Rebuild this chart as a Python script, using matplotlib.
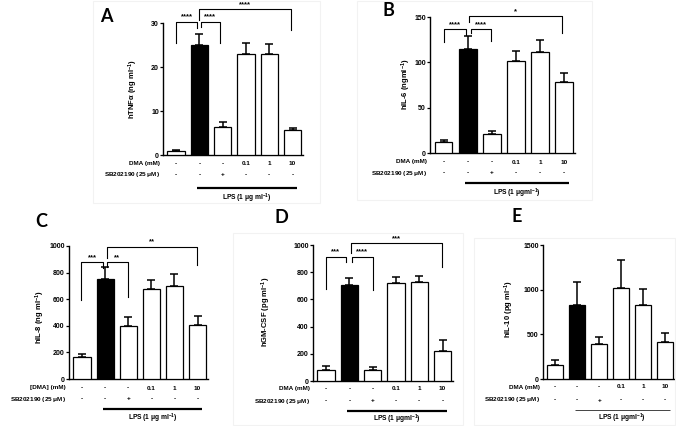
import matplotlib
matplotlib.use('Agg')
import matplotlib.pyplot as plt
from matplotlib.transforms import offset_copy
from matplotlib.patches import Rectangle
import numpy as np

W, H = 676, 426

# ---- data (means and upper SEM) ----
groups = ['ctrl', 'LPS', 'LPS+SB', 'DMA 0.1', 'DMA 1', 'DMA 10']
dma_row = ['-', '-', '-', '0.1', '1', '10']
sb_row = ['-', '-', '+', '-', '-', '-']

tnf_mean = [0.8, 25.1, 6.3, 23.0, 23.0, 5.7]
tnf_err = [0.3, 2.4, 1.1, 2.5, 2.3, 0.5]

il6_mean = [12.5, 114.5, 21.5, 102.0, 111.0, 78.0]
il6_err = [2.3, 14.0, 3.0, 10.5, 13.5, 10.0]

il8_mean = [165, 751, 399, 673, 701, 409]
il8_err = [25, 94, 65, 75, 92, 62]

gmcsf_mean = [84, 708, 79, 717, 730, 219]
gmcsf_err = [29, 46, 24, 47, 41, 81]

il10_mean = [157, 830, 388, 1015, 830, 418]
il10_err = [56, 256, 78, 317, 180, 95]

# significance brackets: x1, x2, top, left leg end, right leg end, label
sig_A = [(0.0, 0.9, 30.3, 25.5, 28.8, '****'),
         (1.05, 1.9, 30.3, 29.0, 25.5, '****'),
         (0.98, 4.95, 33.2, 30.7, 28.4, '****')]
sig_B = [(0.0, 0.95, 136.5, 122, 130.5, '****'),
         (1.15, 1.96, 136.5, 132, 124, '****'),
         (1.07, 4.93, 151, 144, 132, '*')]
sig_C = [(-0.03, 0.9, 879, 594, 832, '***'),
         (1.1, 1.97, 879, 845, 619, '**'),
         (1.08, 4.99, 995, 907, 857, '**')]
sig_D = [(0.0, 0.85, 914, 673, 877, '***'),
         (1.1, 2.0, 914, 877, 669, '****'),
         (1.05, 4.97, 1012, 938, 840, '***')]

plt.rcParams['font.family'] = ['Liberation Sans', 'DejaVu Sans']
plt.rcParams['mathtext.fontset'] = 'custom'
plt.rcParams['mathtext.rm'] = 'Liberation Sans:bold'
plt.rcParams['mathtext.it'] = 'Liberation Sans:bold'
plt.rcParams['mathtext.bf'] = 'Liberation Sans:bold'

fig = plt.figure(figsize=(W / 100, H / 100), dpi=100)
fig.patch.set_facecolor('white')

# faint panel frames seen in the source figure
for (x0, y0, x1, y1) in [(93, 1, 320, 203), (357, 1, 592, 200),
                         (233, 233, 463, 425), (474, 238, 675, 425)]:
    fig.patches.append(Rectangle((x0 / W, 1 - y1 / H), (x1 - x0) / W, (y1 - y0) / H,
                                 transform=fig.transFigure, fill=False,
                                 edgecolor='#f2f2f2', lw=0.8))


def make_panel(box, means, errs, ylim, yticks, ylabel, ylab_xy, dma_label,
               rows_px, sigs, lps_label, letter, letter_xy, thin_lps=False):
    left, top, right, bottom = box
    ax = fig.add_axes([left / W, 1 - bottom / H, (right - left) / W, (bottom - top) / H])
    x = np.arange(len(means))
    colors = ['white', 'black', 'white', 'white', 'white', 'white']
    ax.errorbar(x, means, yerr=[np.zeros(len(errs)), errs], fmt='none', ecolor='black',
                elinewidth=1.1, capsize=2.6, capthick=1.1, zorder=2)
    ax.bar(x, means, width=0.74, color=colors, edgecolor='black', linewidth=0.9, zorder=3)
    ax.set_xlim(-0.56, 5.45)
    ax.set_ylim(*ylim)
    ax.set_yticks(yticks)
    ax.set_yticklabels([str(t) for t in yticks], fontsize=5, fontweight='bold')
    ax.set_xticks([])
    ax.tick_params(axis='y', length=2, width=0.9, pad=1)
    for s in ['top', 'right']:
        ax.spines[s].set_visible(False)
    for s in ['left', 'bottom']:
        ax.spines[s].set_linewidth(1.0)
    ax.set_ylabel(ylabel, fontsize=5.5, fontweight='bold')
    ax.yaxis.set_label_coords((ylab_xy[0] + 4 - left) / (right - left),
                              (bottom - ylab_xy[1]) / (bottom - top))

    dma_off, sb_off, line_off, lps_off = rows_px
    xtr = ax.get_xaxis_transform()
    for i in range(len(means)):
        ax.text(i, 0, dma_row[i], transform=offset_copy(xtr, fig, y=-dma_off, units='dots'),
                ha='center', va='center', fontsize=4.6, fontweight='bold')
        ax.text(i, 0, sb_row[i], transform=offset_copy(xtr, fig, y=-sb_off, units='dots'),
                ha='center', va='center', fontsize=4.6, fontweight='bold')
    ax.text(0, 0, dma_label, transform=offset_copy(ax.transAxes, fig, x=-3, y=-dma_off, units='dots'),
            ha='right', va='center', fontsize=4.6, fontweight='bold')
    ax.text(0, 0, 'SB202190 (25 $\\mu$M)',
            transform=offset_copy(ax.transAxes, fig, x=-3, y=-sb_off, units='dots'),
            ha='right', va='center', fontsize=4.6, fontweight='bold')
    ax.plot([0.9, 5.2], [0, 0], transform=offset_copy(xtr, fig, y=-line_off, units='dots'),
            color='#444444' if thin_lps else 'black', lw=0.7 if thin_lps else 1.6,
            clip_on=False, solid_capstyle='butt')
    ax.text(3.05, 0, lps_label, transform=offset_copy(xtr, fig, y=-lps_off, units='dots'),
            ha='center', va='center', fontsize=4.8, fontweight='bold')

    for (x1, x2, ytop, yl, yr, lab) in sigs:
        ax.plot([x1, x1, x2, x2], [yl, ytop, ytop, yr], color='black', lw=0.8,
                clip_on=False, zorder=4)
        ax.text((x1 + x2) / 2, ytop, lab,
                transform=offset_copy(ax.transData, fig, y=4.5, units='dots'),
                ha='center', va='center', fontsize=5.5, fontweight='bold')

    fig.text(letter_xy[0] / W, 1 - letter_xy[1] / H, letter, ha='center', va='center',
             fontsize=13, fontweight='bold', family=['Lato', 'DejaVu Sans'])
    return ax


make_panel((163, 23, 303, 155), tnf_mean, tnf_err, (0, 30), [0, 10, 20, 30],
           'hTNF$\\alpha$ (ng ml$^{-1}$)', (136, 89), 'DMA (mM)', (8.5, 19.5, 33, 43),
           sig_A, 'LPS (1 $\\mu$g ml$^{-1}$)', 'A', (106, 16))

make_panel((430, 17, 575, 153), il6_mean, il6_err, (0, 150), [0, 50, 100, 150],
           'hIL-6 (ngml$^{-1}$)', (409, 84), 'DMA (mM)', (9, 20, 30, 40),
           sig_B, 'LPS (1 $\\mu$gml$^{-1}$)', 'B', (388, 10))

make_panel((69, 246, 208, 379), il8_mean, il8_err, (0, 1000), [0, 200, 400, 600, 800, 1000],
           'hIL-8 (ng ml$^{-1}$)', (43, 317), '[DMA] (mM)', (9, 20, 30, 39),
           sig_C, 'LPS (1 $\\mu$g ml$^{-1}$)', 'C', (41, 221))

make_panel((313, 245, 453, 381), gmcsf_mean, gmcsf_err, (0, 1000), [0, 200, 400, 600, 800, 1000],
           'hGM-CSF (pg ml$^{-1}$)', (269, 312), 'DMA (mM)', (7.5, 20, 30, 38.5),
           sig_D, 'LPS (1 $\\mu$gml$^{-1}$)', 'D', (281, 218))

make_panel((543, 245, 675, 379), il10_mean, il10_err, (0, 1500), [0, 500, 1000, 1500],
           'hIL-10 (pg ml$^{-1}$)', (512, 309), 'DMA (mM)', (8, 21, 31, 39.5),
           [], 'LPS (1 $\\mu$gml$^{-1}$)', 'E', (517, 217), thin_lps=True)

fig.savefig('out.png', dpi=100, facecolor='white')
